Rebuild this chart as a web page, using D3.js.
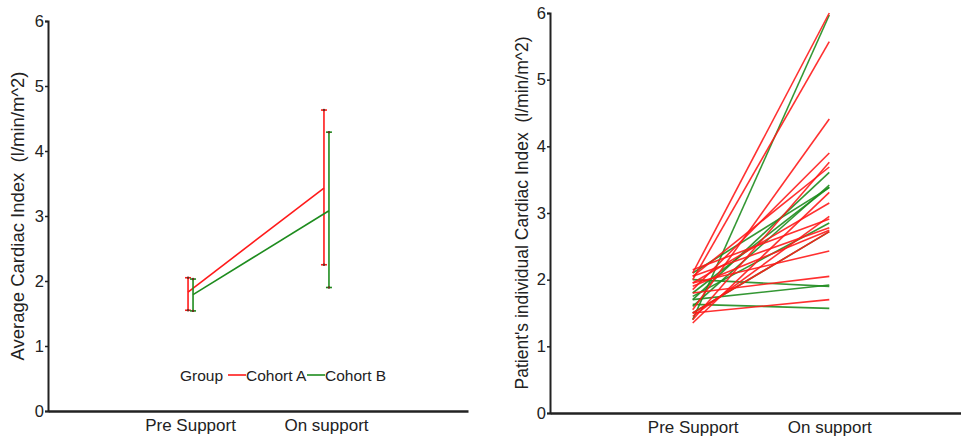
<!DOCTYPE html>
<html><head><meta charset="utf-8">
<script src="https://cdn.jsdelivr.net/npm/d3@7"></script>
<style>body{margin:0;background:#fff}svg{display:block}text{font-family:"Liberation Sans",Arial,sans-serif;fill:#222}</style>
</head><body>
<svg id="c" width="961" height="438"></svg>
<script>
const categories = ["Pre Support", "On support"];
const yTicks = [0, 1, 2, 3, 4, 5, 6];
const groups = ["Cohort A", "Cohort B"];
const colors = ["#ff1a1a", "#1e8c1e"];
// Left panel: means and error-bar limits
const meanA = [1.83, 3.43];
const lowA = [1.55, 2.25];
const highA = [2.05, 4.63];
const meanB = [1.79, 3.08];
const lowB = [1.54, 1.90];
const highB = [2.03, 4.29];
// Right panel: individual patients (pre, on, group index)
const prePatients = [2.10,1.40,2.00,1.55,1.85,1.40,2.05,1.70,1.60,1.80,2.10,1.35,1.95,2.15,1.75,1.90,1.50,1.50,1.95,1.80,2.00,1.70,1.50,1.63,1.45,2.05];
const onPatients  = [6.00,5.97,5.57,4.41,3.90,3.76,3.69,3.61,3.42,3.39,3.38,3.31,3.15,2.91,2.85,2.74,2.72,2.72,2.43,2.05,1.90,1.92,1.70,1.57,2.95,2.78];
const patientGroup= [0,1,0,0,0,0,0,1,1,1,1,0,0,0,1,0,0,1,0,0,1,1,0,1,0,0];

const svg = d3.select("#c");
const FONT = "Liberation Sans, Arial, sans-serif";

function panel(x0, x1, yBottom, yTop, label, labelX, labelSize) {
  const g = svg.append("g");
  const x = d3.scalePoint().domain(categories).range([x0, x1]).padding(1.045);
  const y = d3.scaleLinear().domain([0, 6]).range([yBottom, yTop]);
  const ya = g.append("g").attr("transform", `translate(${x0},0)`)
    .call(d3.axisLeft(y).tickValues(yTicks).tickSize(3).tickPadding(1).tickFormat(d3.format("d")));
  ya.select(".domain").attr("stroke", "#222").attr("stroke-width", 2);
  ya.selectAll(".tick line").attr("stroke", "#222").attr("stroke-width", 1.5);
  ya.selectAll(".tick text").attr("font-size", 16.5).attr("fill", "#222").attr("font-family", FONT);
  const xa = g.append("g").attr("transform", `translate(0,${yBottom})`)
    .call(d3.axisBottom(x).tickSize(0).tickPadding(8));
  xa.select(".domain").attr("stroke", "#222").attr("stroke-width", 2.5);
  xa.selectAll(".tick text").attr("font-size", 17).attr("fill", "#222").attr("font-family", FONT);
  g.append("text").attr("transform", `translate(${labelX},${(yBottom + yTop) / 2}) rotate(-90)`)
    .attr("text-anchor", "middle").attr("font-size", labelSize).attr("dy", "0.35em").text(label);
  return {x, y, g};
}

// Left panel
const L = panel(48, 468, 411, 21, "Average Cardiac Index\u00a0\u00a0(l/min/m^2)", 18, 18.5);
const dodge = [-2, 3];
const sets = [
  {mean: meanA, low: lowA, high: highA},
  {mean: meanB, low: lowB, high: highB}
];
sets.forEach((s, gi) => {
  const px = categories.map(c => L.x(c) + dodge[gi]);
  L.g.append("path")
    .attr("d", d3.line()(categories.map((c, i) => [px[i], L.y(s.mean[i])])))
    .attr("stroke", colors[gi]).attr("stroke-width", 1.6).attr("fill", "none");
  categories.forEach((c, i) => {
    L.g.append("line").attr("x1", px[i]).attr("x2", px[i])
      .attr("y1", L.y(s.low[i])).attr("y2", L.y(s.high[i]))
      .attr("stroke", colors[gi]).attr("stroke-width", 1.6);
    [s.low[i], s.high[i]].forEach(v => {
      L.g.append("line").attr("x1", px[i] - 3).attr("x2", px[i] + 3)
        .attr("y1", L.y(v)).attr("y2", L.y(v))
        .attr("stroke", colors[gi]).attr("stroke-width", 1.6);
      L.g.append("circle").attr("cx", px[i]).attr("cy", L.y(v)).attr("r", 1.2).attr("fill", "#6a3020");
    });
  });
});

// Legend
const leg = L.g.append("g").attr("font-size", 15.5);
leg.append("text").attr("x", 180).attr("y", 381).text("Group");
leg.append("line").attr("x1", 228).attr("x2", 246).attr("y1", 375).attr("y2", 375).attr("stroke", colors[0]).attr("stroke-width", 1.6);
leg.append("text").attr("x", 246).attr("y", 381).text(groups[0]);
leg.append("line").attr("x1", 307).attr("x2", 325).attr("y1", 375).attr("y2", 375).attr("stroke", colors[1]).attr("stroke-width", 1.6);
leg.append("text").attr("x", 325).attr("y", 381).text(groups[1]);

// Right panel
const R = panel(550, 972, 413, 13, "Patient's individual Cardiac Index\u00a0\u00a0(l/min/m^2)", 522, 17.5);
const order = d3.range(prePatients.length).sort((a, b) => patientGroup[b] - patientGroup[a] || 0);
order.forEach(i => {
  R.g.append("line")
    .attr("x1", R.x(categories[0])).attr("y1", R.y(prePatients[i]))
    .attr("x2", R.x(categories[1])).attr("y2", R.y(onPatients[i]))
    .attr("stroke", colors[patientGroup[i]]).attr("stroke-width", 1.6).attr("stroke-opacity", 0.9);
});
</script>
</body></html>
